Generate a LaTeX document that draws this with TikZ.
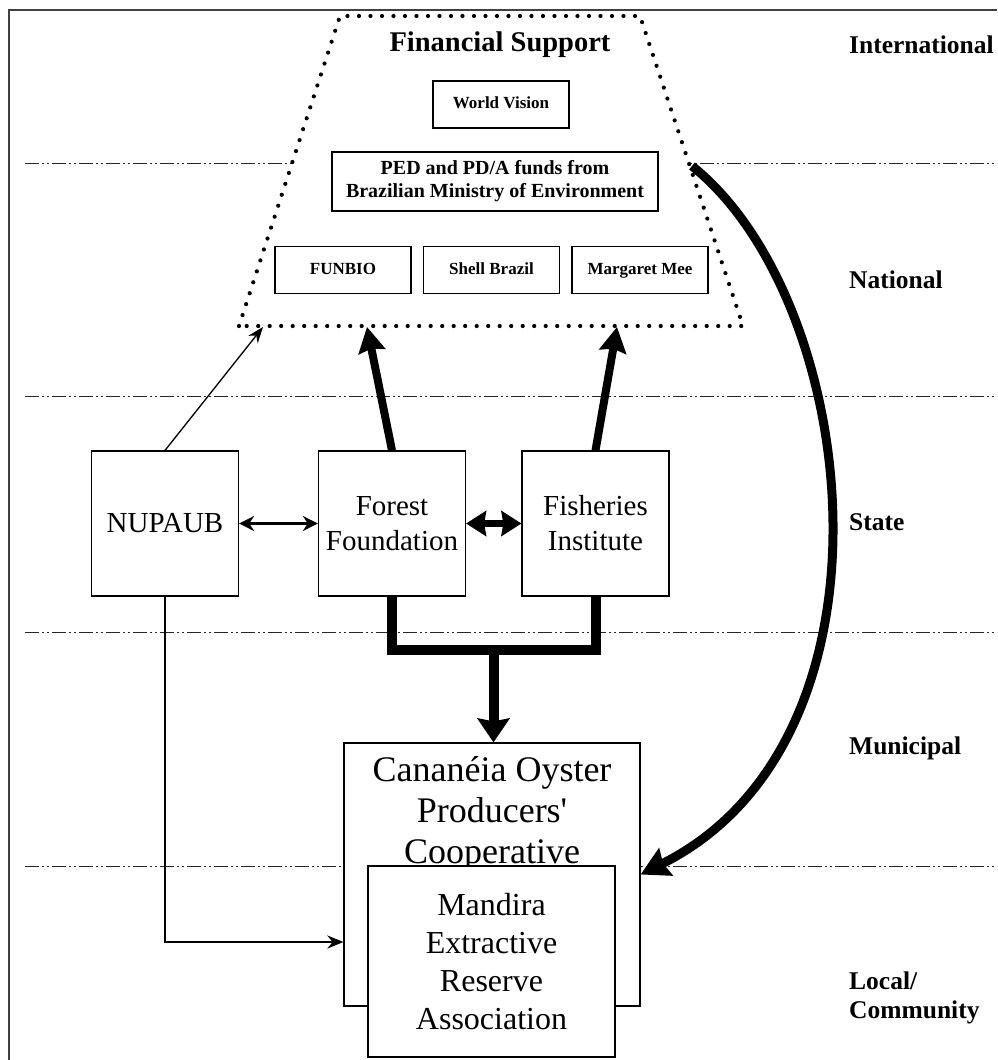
\documentclass[tikz,border=0pt]{standalone}
\usepackage{fontspec}
\setmainfont{Liberation Serif}
\usetikzlibrary{arrows.meta,calc}

\begin{document}
\begin{tikzpicture}[x=1pt,y=-1pt,
    org/.style={draw,line width=1.2pt,fill=white,inner sep=0pt,align=center},
    fund/.style={org,minimum width=136,minimum height=47,text height=12pt,text depth=4pt,font=\fontsize{17}{20}\selectfont\bfseries},
    inst/.style={org,minimum width=147,minimum height=145,font=\fontsize{29}{35}\selectfont},
    tier/.style={anchor=west,align=left,inner sep=0pt,font=\fontsize{25.5}{29}\selectfont\bfseries},
    sep/.style={line width=1pt,black!85,dash pattern=on 14pt off 3pt on 2pt off 3pt on 2pt off 3pt}]
            \useasboundingbox (0,0) rectangle (997,1060);
            \draw[line width=1.2pt,black!75] (9,1060) -- (9,10) -- (997,10);

            \foreach \y in {163,396,632,866}{
              \draw[sep] (25,\y) -- (997,\y);
            }

            \filldraw[fill=white,line width=4.2pt,line cap=round,dash pattern=on 0pt off 11.5pt]
              (239,326) -- (340,16) -- (640,16) -- (743,326) -- cycle;
            \coordinate (t1) at (263,327);
            \coordinate (t2) at (367,327);
            \coordinate (t3) at (617,327);
            \coordinate (cs) at (692,166);

            \node[font=\fontsize{28.5}{32}\selectfont\bfseries] (fs) at (500,45) {Financial Support};
            \node[fund] (wv) at (501,104.5) {World Vision};
            \node[org,minimum width=326,minimum height=59,font=\fontsize{20}{23}\selectfont\bfseries] (ped) at (495,181.5) {PED and PD/A funds from\\Brazilian Ministry of Environment};
            \node[fund] (funbio) at (343,270) {FUNBIO};
            \node[fund] (shell) at (491.5,270) {Shell Brazil};
            \node[fund] (mee) at (640,270) {Margaret Mee};

            \node[inst] (nupaub) at (165,523.5) {NUPAUB};
            \node[inst] (forest) at (392,523.5) {Forest\\Foundation};
            \node[inst] (fish) at (595.5,523.5) {Fisheries\\Institute};

            \node[org,minimum width=296,minimum height=263] (coop) at (492,874.5) {};
            \node[inner sep=0pt,align=center,font=\fontsize{36}{41}\selectfont] (cooptxt) at (492,814) {Cananéia Oyster\\Producers\textquotesingle\\Cooperative};
            \node[org,minimum width=247,minimum height=191,font=\fontsize{32}{38}\selectfont] (mandira) at (491.5,961.5) {Mandira\\Extractive\\Reserve\\Association};

            \foreach \t/\y in {International/45,National/280,State/522,Municipal/748}{
              \node[tier] (lvl-\y) at (849,\y) {\t};
            }
            \node[tier] (lvl-local) at (849,998) {Local/\\Community};

            \coordinate (mid) at (493.5,650);

            \draw[line width=1.3pt,-{Stealth[length=16pt,width=12pt]}] (nupaub.north) -- (t1);
            \draw[line width=8pt,-{Stealth[length=25pt,width=27pt,inset=3pt]}] (forest.north) -- (t2);
            \draw[line width=8pt,-{Stealth[length=25pt,width=27pt,inset=3pt]}] (fish.north) -- (t3);
            \draw[line width=3pt,{Stealth[length=15pt,width=15pt]}-{Stealth[length=15pt,width=15pt]}] (nupaub.east) -- (forest.west);
            \draw[line width=7pt,{Stealth[length=20pt,width=25pt,inset=2pt]}-{Stealth[length=20pt,width=25pt,inset=2pt]}] (forest.east) -- (fish.west);
            \draw[line width=10pt] (forest.south) |- (mid) -| (fish.south);
            \draw[line width=10pt,-{Stealth[length=24pt,width=32pt,inset=3pt]}] (mid) -- (mid |- coop.north);
            \draw[line width=2.5pt,-{Stealth[length=16pt,width=13pt]}] (nupaub.south) |- ($(coop.west)+(0,67.5)$);
            \draw[line width=9pt,-{Stealth[length=28pt,width=30pt,inset=3pt]}] (cs) .. controls (860,300) and (910,740) .. (coop.east);
        \end{tikzpicture}
\end{document}
